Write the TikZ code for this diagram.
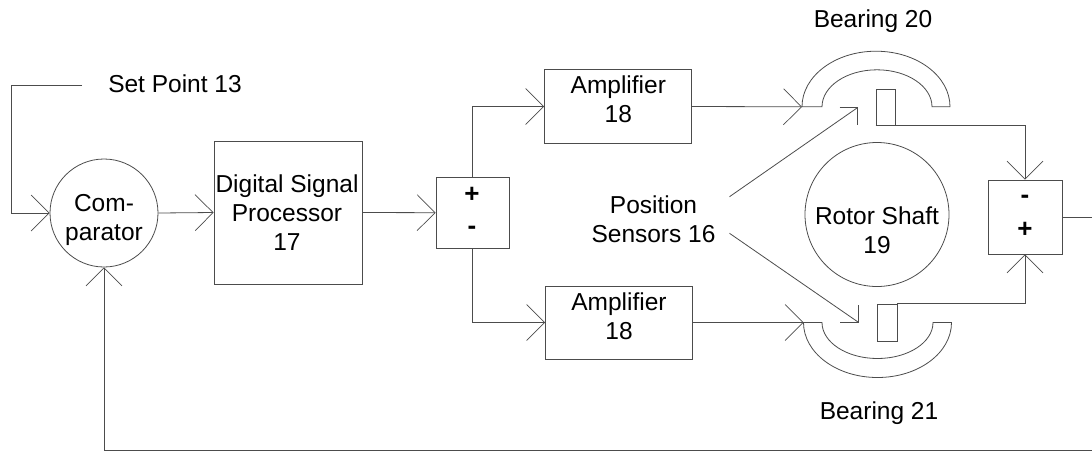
\documentclass[tikz,border=0pt]{standalone}
\usepackage{fontspec}
\setmainfont{Liberation Sans}
\usetikzlibrary{arrows.meta}
\definecolor{ln}{gray}{0.3}
\tikzset{
  wire/.style={draw=ln,line width=0.8pt},
  conn/.style={wire,-{Straight Barb[length=18pt,width=36pt,line width=0.7pt]}},
  blk/.style={draw=ln,line width=0.8pt,inner sep=0pt,align=center,font=\fontsize{24.5}{29}\selectfont},
  lbl/.style={inner sep=0pt,align=center,font=\fontsize{24.5}{29}\selectfont},
  sign/.style={inner sep=0pt,font=\fontsize{26}{26}\selectfont\bfseries},
}
\begin{document}
\begin{tikzpicture}[x=1pt,y=-1pt]
\useasboundingbox (0,0) rectangle (1092,451);
% text labels
\node[lbl] (setp) at (175,84) {Set Point 13};
\node[lbl] (b20) at (873,21) {Bearing 20};
\node[lbl] (b21) at (879,413) {Bearing 21};
\node[lbl] (pos) at (653.5,219) {Position\\Sensors 16};
% blocks
\node[blk,circle,minimum size=108pt] (cmp) at (104,213) {};
\node[lbl] (cmpt) at (104,220) {Com-\\parator};
\node[blk,minimum width=148pt,minimum height=143pt] (dsp) at (288,212.5) {};
\node[lbl] (dspt) at (287,212.5) {Digital Signal\\Processor\\17};
\node[blk,minimum width=73pt,minimum height=71pt] (sum) at (472.5,212.7) {};
\node[sign] (sp) at (472,195) {+};
\node[sign] (sm) at (472,230) {-};
\node[blk,minimum width=147pt,minimum height=74pt] (a1) at (618,106.5) {};
\node[lbl] (a1t) at (618.3,99.5) {Amplifier\\18};
\node[blk,minimum width=147pt,minimum height=73pt] (a2) at (619,322.5) {};
\node[lbl] (a2t) at (619,316) {Amplifier\\18};
\node[blk,circle,minimum size=144pt] (rot) at (877,214.5) {};
\node[lbl] (rott) at (877,230.5) {Rotor Shaft\\19};
\node[blk,minimum width=74pt,minimum height=74pt] (dif) at (1025,217) {};
\node[sign] (dm) at (1025,199) {-};
\node[sign] (dp) at (1025,230) {+};
% sensors
\node[draw=ln,line width=0.8pt,inner sep=0pt,minimum width=19pt,minimum height=36pt] (s1) at (885.5,107) {};
\node[draw=ln,line width=0.8pt,inner sep=0pt,minimum width=20pt,minimum height=37pt] (s2) at (887,322.5) {};
% bearings
\coordinate (b1in) at (802,106.8);
\coordinate (b2in) at (803.5,322.5);
\draw[wire] (b1in) arc[start angle=180,end angle=0,x radius=74pt,y radius=55.6pt] -- (932,106.8)
  arc[start angle=0,end angle=180,x radius=55pt,y radius=37pt] -- cycle;
\draw[wire] (b2in) arc[start angle=180,end angle=360,x radius=74pt,y radius=55pt] -- (933,322.5)
  arc[start angle=360,end angle=180,x radius=55.5pt,y radius=36pt] -- cycle;
% junctions
\coordinate (tip1) at (857.7,107.5);
\coordinate (tip2) at (858,322);
\coordinate (p1) at (729.5,196.7);
\coordinate (p2) at (729.5,233.3);
\coordinate (spstart) at (82,85);
\coordinate (spc) at (11,85);
\coordinate (spd) at (11,213);
\coordinate (fb) at (104,450.6);
\coordinate (fbe) at (1092,450.6);
\coordinate (oe) at (1092,217);
% connectors
\draw[conn] (spstart) -- (spc) -- (spd) -- (cmp.west);
\draw[conn] (cmp.east) -- (dsp.west);
\draw[conn] (dsp.east) -- (sum.west);
\draw[conn] (sum.north) |- (a1.west);
\draw[conn] (sum.south) |- (a2.west);
\draw[conn] (a1.east) -- (b1in);
\draw[conn] (a2.east) -- (b2in);
\draw[wire] (p1) -- (tip1);
\draw[wire] ([xshift=-18pt]tip1) -- (tip1) -- ([yshift=-17pt]tip1);
\draw[wire] (p2) -- (tip2);
\draw[wire] ([xshift=-18pt]tip2) -- (tip2) -- ([yshift=17pt]tip2);
\draw[conn] (s1.south west) -| (dif.north);
\draw[conn] (s2.north east) -| (dif.south);
\draw[wire] (dif.east) -- (oe);
\draw[conn] (fbe) -- (fb) -- (cmp.south);
\end{tikzpicture}
\end{document}
